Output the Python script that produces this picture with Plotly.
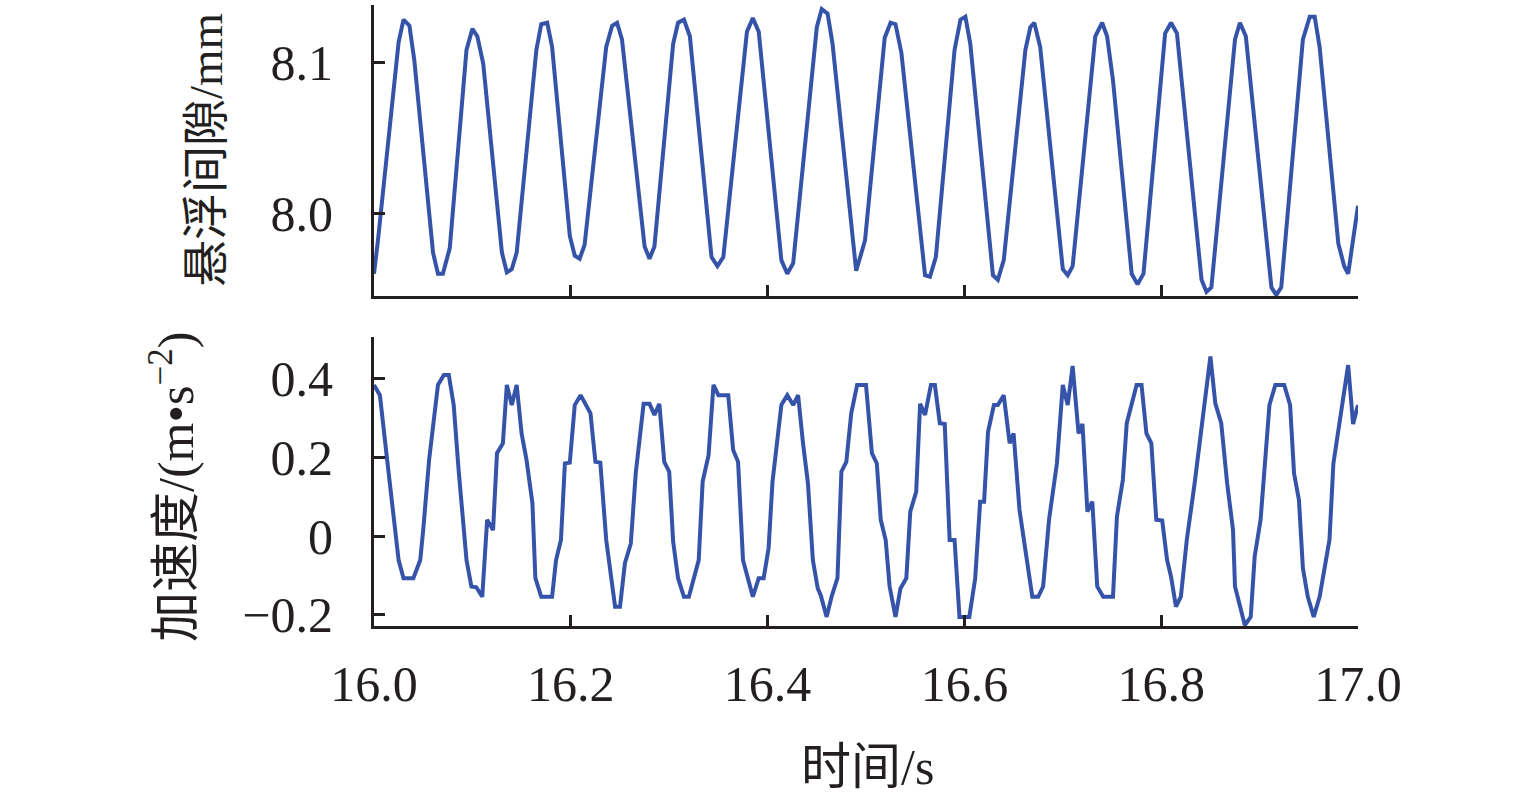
import plotly.graph_objects as go
from plotly.subplots import make_subplots

# Levitation gap (mm) vs time (s)
gap_t = [16.000, 16.004, 16.025, 16.030, 16.036, 16.041, 16.060, 16.065, 16.070, 16.077,
         16.094, 16.100, 16.105, 16.111, 16.130, 16.135, 16.140, 16.145, 16.165, 16.170,
         16.176, 16.181, 16.199, 16.204, 16.209, 16.214, 16.236, 16.242, 16.247, 16.252,
         16.275, 16.280, 16.285, 16.304, 16.309, 16.315, 16.321, 16.343, 16.349, 16.355,
         16.379, 16.385, 16.391, 16.414, 16.420, 16.426, 16.450, 16.455, 16.461, 16.466,
         16.490, 16.499, 16.519, 16.525, 16.530, 16.536, 16.560, 16.565, 16.571, 16.590,
         16.596, 16.601, 16.606, 16.629, 16.634, 16.640, 16.662, 16.667, 16.671, 16.677,
         16.700, 16.705, 16.710, 16.733, 16.740, 16.745, 16.751, 16.770, 16.776, 16.782,
         16.804, 16.810, 16.816, 16.841, 16.846, 16.851, 16.875, 16.880, 16.886, 16.912,
         16.917, 16.922, 16.944, 16.951, 16.956, 16.961, 16.980, 16.986, 16.990, 17.000]
gap_v = [7.960, 7.982, 8.113, 8.128, 8.124, 8.101, 7.974, 7.960, 7.960, 7.977,
         8.108, 8.122, 8.117, 8.099, 7.974, 7.961, 7.963, 7.974, 8.108, 8.125,
         8.126, 8.110, 7.985, 7.972, 7.970, 7.979, 8.110, 8.124, 8.126, 8.115,
         7.978, 7.970, 7.978, 8.112, 8.126, 8.128, 8.117, 7.971, 7.965, 7.971,
         8.120, 8.129, 8.120, 7.969, 7.960, 7.967, 8.123, 8.135, 8.132, 8.112,
         7.962, 7.982, 8.116, 8.126, 8.125, 8.106, 7.959, 7.958, 7.971, 8.108,
         8.128, 8.130, 8.112, 7.959, 7.956, 7.969, 8.108, 8.123, 8.126, 8.110,
         7.963, 7.959, 7.965, 8.117, 8.126, 8.117, 8.088, 7.960, 7.953, 7.960,
         8.119, 8.126, 8.119, 7.956, 7.948, 7.951, 8.115, 8.126, 8.117, 7.951,
         7.946, 7.951, 8.115, 8.130, 8.130, 8.110, 7.980, 7.965, 7.960, 8.005]

# Acceleration (m/s^2) vs time (s)
acc_t = [16.000, 16.006, 16.013, 16.018, 16.025, 16.030, 16.040, 16.047, 16.050, 16.056,
         16.065, 16.071, 16.076, 16.081, 16.086, 16.094, 16.099, 16.104, 16.110, 16.115,
         16.121, 16.125, 16.131, 16.135, 16.140, 16.145, 16.150, 16.155, 16.161, 16.164,
         16.170, 16.181, 16.185, 16.190, 16.194, 16.199, 16.204, 16.210, 16.220, 16.225,
         16.230, 16.236, 16.245, 16.250, 16.255, 16.261, 16.266, 16.274, 16.280, 16.285,
         16.290, 16.295, 16.300, 16.304, 16.309, 16.315, 16.320, 16.330, 16.334, 16.340,
         16.345, 16.350, 16.360, 16.365, 16.370, 16.375, 16.385, 16.391, 16.396, 16.401,
         16.405, 16.414, 16.420, 16.426, 16.431, 16.436, 16.441, 16.446, 16.451, 16.454,
         16.460, 16.465, 16.471, 16.475, 16.480, 16.485, 16.491, 16.500, 16.506, 16.511,
         16.515, 16.520, 16.524, 16.530, 16.535, 16.541, 16.545, 16.551, 16.555, 16.560,
         16.566, 16.570, 16.575, 16.580, 16.585, 16.590, 16.595, 16.605, 16.611, 16.616,
         16.620, 16.624, 16.630, 16.634, 16.640, 16.646, 16.650, 16.656, 16.662, 16.669,
         16.675, 16.680, 16.686, 16.694, 16.700, 16.705, 16.710, 16.716, 16.720, 16.725,
         16.730, 16.735, 16.741, 16.751, 16.755, 16.761, 16.765, 16.770, 16.775, 16.780,
         16.785, 16.790, 16.795, 16.801, 16.806, 16.810, 16.815, 16.820, 16.826, 16.834,
         16.843, 16.850, 16.855, 16.861, 16.867, 16.873, 16.875, 16.885, 16.891, 16.895,
         16.901, 16.910, 16.916, 16.925, 16.931, 16.935, 16.940, 16.944, 16.949, 16.955,
         16.961, 16.971, 16.975, 16.981, 16.990, 16.995, 17.000]
acc_v = [0.383, 0.357, 0.201, 0.083, -0.061, -0.107, -0.107, -0.061, 0.015, 0.193,
         0.383, 0.408, 0.408, 0.332, 0.167, -0.061, -0.128, -0.130, -0.154, 0.041,
         0.015, 0.210, 0.235, 0.383, 0.332, 0.383, 0.260, 0.193, 0.083, -0.107,
         -0.154, -0.154, -0.061, -0.010, 0.184, 0.186, 0.332, 0.357, 0.311, 0.188,
         0.186, -0.010, -0.179, -0.179, -0.069, -0.019, 0.159, 0.335, 0.335, 0.307,
         0.335, 0.188, 0.163, -0.014, -0.107, -0.154, -0.154, -0.061, 0.138, 0.205,
         0.383, 0.357, 0.357, 0.218, 0.188, -0.061, -0.154, -0.107, -0.107, -0.031,
         0.138, 0.332, 0.357, 0.332, 0.357, 0.235, 0.134, -0.061, -0.133, -0.150,
         -0.205, -0.154, -0.107, 0.163, 0.188, 0.311, 0.383, 0.383, 0.210, 0.184,
         0.041, -0.010, -0.128, -0.205, -0.133, -0.107, 0.062, 0.112, 0.335, 0.307,
         0.383, 0.383, 0.286, 0.284, -0.010, -0.010, -0.205, -0.205, -0.107, 0.087,
         0.087, 0.264, 0.332, 0.332, 0.357, 0.235, 0.260, 0.066, -0.035, -0.154,
         -0.154, -0.128, 0.041, 0.184, 0.383, 0.332, 0.431, 0.260, 0.284, 0.062,
         0.087, -0.128, -0.154, -0.154, 0.049, 0.142, 0.286, 0.332, 0.383, 0.383,
         0.260, 0.235, 0.041, 0.039, -0.061, -0.103, -0.179, -0.154, -0.010, 0.134,
         0.311, 0.455, 0.336, 0.286, 0.134, 0.015, -0.128, -0.226, -0.205, -0.052,
         0.041, 0.332, 0.383, 0.383, 0.332, 0.159, 0.091, -0.082, -0.154, -0.205,
         -0.154, -0.010, 0.184, 0.286, 0.433, 0.284, 0.332]

x_ticks = [16.0, 16.2, 16.4, 16.6, 16.8, 17.0]
x_ticktext = ["16.0", "16.2", "16.4", "16.6", "16.8", "17.0"]
gap_ticks = [8.0, 8.1]
gap_ticktext = ["8.0", "8.1"]
acc_ticks = [-0.2, 0.0, 0.2, 0.4]
acc_ticktext = ["\u22120.2", "0", "0.2", "0.4"]

LINE = "#3553a9"
AX = "#231f20"
FONT = "Liberation Serif, Times New Roman, Noto Sans CJK SC, serif"

W, H = 1535, 806
L, R, T, B = 374, 177, 5, 180
ph = H - T - B

def fy(py):
    return (H - B - py) / ph

def fx(px):
    return (px - L) / (W - L - R)

fig = make_subplots(rows=2, cols=1, shared_xaxes=False)
fig.add_trace(go.Scatter(x=gap_t, y=gap_v, mode="lines",
                         line=dict(color=LINE, width=4), showlegend=False), row=1, col=1)
fig.add_trace(go.Scatter(x=acc_t, y=acc_v, mode="lines",
                         line=dict(color=LINE, width=4), showlegend=False), row=2, col=1)

common_x = dict(range=[16.0, 17.0], tickvals=x_ticks, showline=True, linecolor=AX,
                linewidth=3, ticks="inside", ticklen=11, tickwidth=3, tickcolor=AX,
                showgrid=False, zeroline=False, mirror=False)
fig.update_layout(
    xaxis=dict(domain=[0, 1], anchor="y", showticklabels=False, **common_x),
    xaxis2=dict(domain=[0, 1], anchor="y2", showticklabels=True, ticktext=x_ticktext,
                tickfont=dict(family=FONT, size=50, color=AX), ticklabelstandoff=12,
                **common_x),
    yaxis=dict(domain=[fy(296), fy(5)], anchor="x", range=[7.9453, 8.1377],
               tickvals=gap_ticks, ticktext=gap_ticktext, showline=True, linecolor=AX,
               linewidth=3, ticks="inside", ticklen=11, tickwidth=3, tickcolor=AX,
               showgrid=False, zeroline=False,
               tickfont=dict(family=FONT, size=50, color=AX), ticklabelstandoff=28),
    yaxis2=dict(domain=[0, fy(337)], anchor="x2", range=[-0.2281, 0.5044],
                tickvals=acc_ticks, ticktext=acc_ticktext, showline=True, linecolor=AX,
                linewidth=3, ticks="inside", ticklen=11, tickwidth=3, tickcolor=AX,
                showgrid=False, zeroline=False,
                tickfont=dict(family=FONT, size=50, color=AX), ticklabelstandoff=28),
    width=W, height=H,
    margin=dict(l=L, r=R, t=T, b=B, autoexpand=False),
    paper_bgcolor="white", plot_bgcolor="white",
    showlegend=False,
    annotations=[
        dict(text="悬浮间隙/mm", xref="paper", yref="paper", x=fx(206), y=fy(150),
             textangle=-90, showarrow=False, xanchor="center", yanchor="middle",
             font=dict(family=FONT, size=47, color=AX)),
        dict(text="加速度/(m\u2022s<sup>\u22122</sup>)", xref="paper", yref="paper",
             x=fx(172), y=fy(487), textangle=-90, showarrow=False,
             xanchor="center", yanchor="middle",
             font=dict(family=FONT, size=50, color=AX)),
        dict(text="时间/s", xref="paper", yref="paper", x=fx(867), y=fy(767),
             showarrow=False, xanchor="center", yanchor="middle",
             font=dict(family=FONT, size=50, color=AX)),
    ],
)

fig.write_html("out.html", config={"displayModeBar": False},
               post_script="document.body.style.margin='0';")
